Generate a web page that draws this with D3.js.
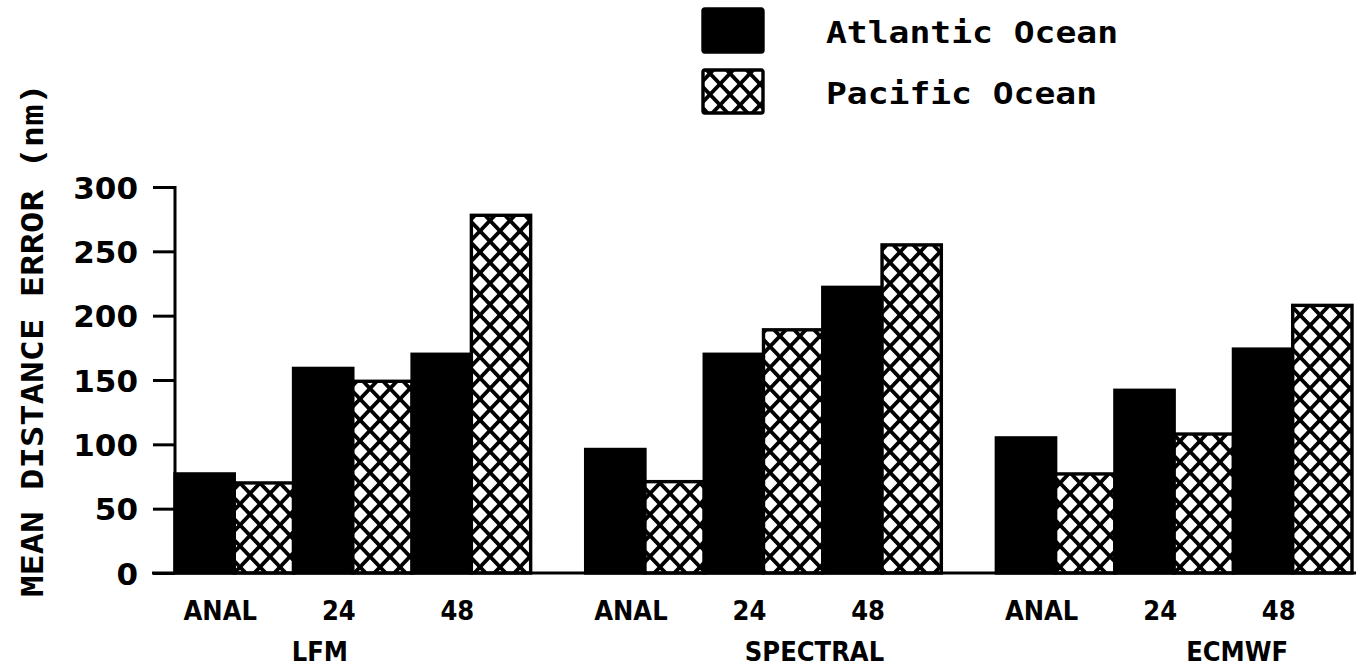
<!DOCTYPE html>
<html>
<head>
<meta charset="utf-8">
<script src="https://cdn.jsdelivr.net/npm/d3@7"></script>
<style>
  html, body { margin: 0; padding: 0; background: #fff; }
  svg { display: block; }
</style>
</head>
<body>
<svg id="chart" width="1361" height="670"></svg>
<script>
// ---- data ----
const models = ["LFM", "SPECTRAL", "ECMWF"];
const leadTimes = ["ANAL", "24", "48"];
const seriesNames = ["Atlantic Ocean", "Pacific Ocean"];
const atlanticValues = [[77, 159, 170], [96, 170, 222], [105, 142, 174]];
const pacificValues = [[70, 149, 278], [71, 189, 255], [77, 108, 208]];
const yTicks = [0, 50, 100, 150, 200, 250, 300];
const yLabel = "MEAN DISTANCE ERROR  (nm)";

// ---- layout ----
const svg = d3.select("#chart");
const axisX = 175, baseY = 573, topY = 187;
const groupLabelShift = { LFM: -33, SPECTRAL: 51, ECMWF: 63 };
const leadLabelShift = -14;

const x0 = d3.scaleBand().domain(models).range([175, 1352]).paddingInner(0.134).paddingOuter(0);
const x1 = d3.scaleBand().domain(leadTimes).range([0, x0.bandwidth()]).padding(0);
const x2 = d3.scaleBand().domain(seriesNames).range([0, x1.bandwidth()]).padding(0);
const y = d3.scaleLinear().domain([0, 300]).range([baseY, topY]);

// hatch pattern
const defs = svg.append("defs");
const pat = defs.append("pattern").attr("id", "hatch")
  .attr("patternUnits", "userSpaceOnUse").attr("width", 20).attr("height", 21);
pat.append("rect").attr("width", 20).attr("height", 21).attr("fill", "#fff");
pat.append("line").attr("x1", -5).attr("y1", -5.25).attr("x2", 25).attr("y2", 26.25)
  .attr("stroke", "#000").attr("stroke-width", 3.8);
pat.append("line").attr("x1", 25).attr("y1", -5.25).attr("x2", -5).attr("y2", 26.25)
  .attr("stroke", "#000").attr("stroke-width", 3.8);

const fills = { "Atlantic Ocean": "#000", "Pacific Ocean": "url(#hatch)" };

// bars
const rows = [];
models.forEach((m, mi) => {
  leadTimes.forEach((l, li) => {
    rows.push({ model: m, lead: l, series: "Atlantic Ocean", value: atlanticValues[mi][li] });
    rows.push({ model: m, lead: l, series: "Pacific Ocean", value: pacificValues[mi][li] });
  });
});

svg.append("g").selectAll("rect").data(rows).join("rect")
  .attr("x", d => x0(d.model) + x1(d.lead) + x2(d.series))
  .attr("y", d => y(d.value))
  .attr("width", x2.bandwidth())
  .attr("height", d => baseY - y(d.value))
  .attr("fill", d => fills[d.series])
  .attr("stroke", "#000")
  .attr("stroke-width", 3.4);

// y axis
const yAxis = d3.axisLeft(y).tickValues(yTicks).tickSize(22).tickPadding(16).tickFormat(d3.format("d"));
const gy = svg.append("g").attr("transform", `translate(${axisX},0)`).call(yAxis);
gy.select(".domain").attr("stroke", "#000").attr("stroke-width", 3).attr("d", `M0,${topY - 1}V${baseY}`);
gy.selectAll(".tick line").attr("stroke", "#000").attr("stroke-width", 3);
gy.selectAll(".tick text")
  .attr("fill", "#000")
  .attr("font-family", "'DejaVu Sans', sans-serif")
  .attr("font-weight", "bold")
  .attr("font-size", 31)
  .attr("dy", "0.36em")
  .attr("x", -37);

// baseline
svg.append("line").attr("x1", 152).attr("x2", 1356).attr("y1", baseY).attr("y2", baseY)
  .attr("stroke", "#000").attr("stroke-width", 3.2);

// x lead labels
const leadLabels = [];
models.forEach(m => leadTimes.forEach(l => leadLabels.push({ model: m, lead: l })));
svg.append("g").selectAll("text").data(leadLabels).join("text")
  .attr("x", d => x0(d.model) + x1(d.lead) + x1.bandwidth() / 2 + leadLabelShift)
  .attr("y", 620)
  .attr("text-anchor", "middle")
  .attr("font-family", "'Liberation Sans Narrow', 'DejaVu Sans Condensed', sans-serif")
  .attr("font-weight", "bold")
  .attr("font-size", 27)
  .text(d => d.lead);

// model labels
svg.append("g").selectAll("text").data(models).join("text")
  .attr("x", d => x0(d) + x0.bandwidth() / 2 + groupLabelShift[d])
  .attr("y", 661)
  .attr("text-anchor", "middle")
  .attr("font-family", "'Liberation Sans Narrow', 'DejaVu Sans Condensed', sans-serif")
  .attr("font-weight", "bold")
  .attr("font-size", 27)
  .text(d => d);

// y label
svg.append("text")
  .attr("transform", "translate(43,340) rotate(-90)")
  .attr("text-anchor", "middle")
  .attr("font-family", "'DejaVu Sans Mono', monospace")
  .attr("font-weight", "bold")
  .attr("font-size", 31)
  .attr("textLength", 514)
  .attr("lengthAdjust", "spacingAndGlyphs")
  .text(yLabel);

// legend
const legend = svg.append("g");
seriesNames.forEach((s, i) => {
  const top = i === 0 ? 9 : 70;
  legend.append("rect").attr("x", 703).attr("y", top).attr("width", 60).attr("height", 43)
    .attr("rx", 2).attr("fill", fills[s]).attr("stroke", "#000").attr("stroke-width", 3.4);
  legend.append("text")
    .attr("x", 826).attr("y", top + 34)
    .attr("font-family", "'DejaVu Sans Mono', monospace")
    .attr("font-weight", "bold")
    .attr("font-size", 31)
    .attr("textLength", i === 0 ? 292 : 271)
    .attr("lengthAdjust", "spacingAndGlyphs")
    .text(s);
});
</script>
</body>
</html>
